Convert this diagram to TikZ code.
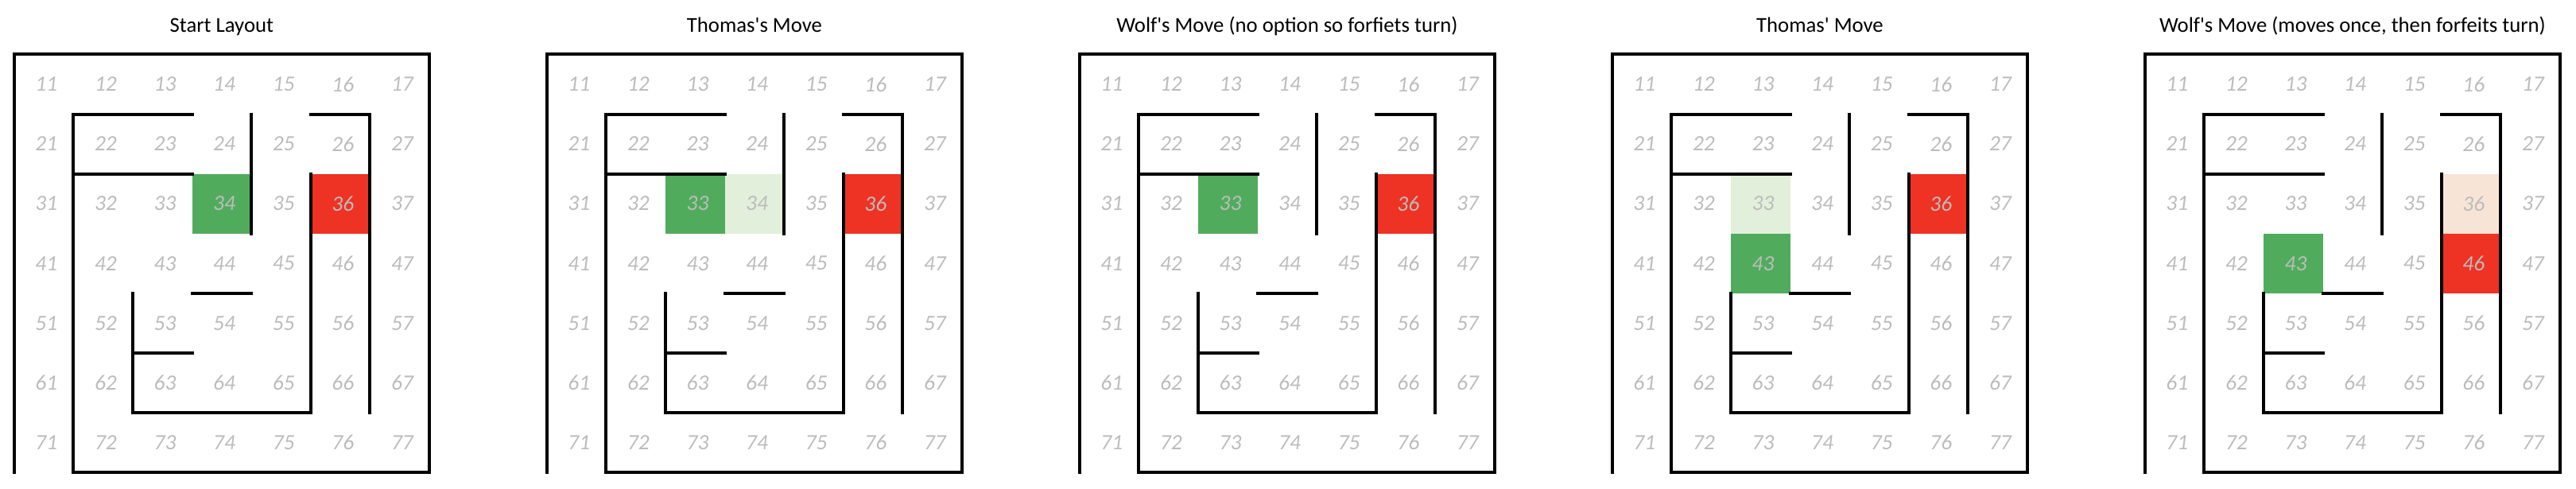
\documentclass[tikz,border=0pt]{standalone}
\usepackage{fontspec}
\usepackage{tikz}
\newfontfamily\calfont{Carlito}
\definecolor{mzgray}{HTML}{BCBCBC}
\definecolor{thgreen}{HTML}{50AC5C}
\definecolor{thpale}{HTML}{E2EFDA}
\definecolor{wfred}{HTML}{EE3224}
\definecolor{wfpale}{HTML}{F8E4D6}
\newcommand{\mazecell}[3]{\fill[#1] (#3-1,-#2+1) rectangle (#3,-#2);}
\newcommand{\mazeboard}[1]{%
  \foreach \r in {1,...,7}
    \foreach \c in {1,...,7}
      \node[num] (#1-\r\c) at (\c-0.5,-\r+0.5) {\r\c};
  \draw[wall] (0,-7) -- (0,0) -- (7,0) -- (7,-7) -- (1,-7) -- (1,-1) -- (3,-1);
  \draw[wall] (1,-2) -- (3,-2);
  \draw[wall] (4,-1) -- (4,-3);
  \draw[wall] (5,-1) -- (6,-1) -- (6,-6);
  \draw[wall] (3,-4) -- (4,-4);
  \draw[wall] (5,-2) -- (5,-6) -- (2,-6) -- (2,-4);
  \draw[wall] (2,-5) -- (3,-5);
}
\begin{document}
\begin{tikzpicture}[
    x=1.865cm, y=1.8775cm,
    num/.style={font=\calfont\itshape\fontsize{19.5}{19.5}\selectfont,
                text=mzgray, inner sep=0pt, xshift=0.08cm},
    ttl/.style={font=\calfont\fontsize{19}{19}\selectfont,
                anchor=base, inner sep=0pt},
    wall/.style={line width=0.1cm, line cap=rect, line join=miter},
  ]
  \useasboundingbox (-0.445cm,1.71cm) rectangle (80.555cm,-13.64cm);

  %% ---- start layout ----------------------------------------------------
  \begin{scope}
    \node[ttl] (ttl1) at (3.5,0.369) {Start Layout};
    \mazecell{thgreen}{3}{4}
    \mazecell{wfred}{3}{6}
    \mazeboard{a}
  \end{scope}

  %% ---- thomas moves left -------------------------------------------------
  \begin{scope}[xshift=16.75cm]
    \node[ttl] (ttl2) at (3.5,0.369) {Thomas\textquotesingle s Move};
    \mazecell{thpale}{3}{4}
    \mazecell{thgreen}{3}{3}
    \mazecell{wfred}{3}{6}
    \mazeboard{b}
  \end{scope}

  %% ---- wolf stuck --------------------------------------------------------
  \begin{scope}[xshift=33.5cm]
    \node[ttl] (ttl3) at (3.5,0.369)
      {Wolf\textquotesingle s Move (no option so forfiets turn)};
    \mazecell{thgreen}{3}{3}
    \mazecell{wfred}{3}{6}
    \mazeboard{c}
  \end{scope}

  %% ---- thomas moves down -------------------------------------------------
  \begin{scope}[xshift=50.25cm]
    \node[ttl] (ttl4) at (3.5,0.369) {Thomas\textquotesingle\ Move};
    \mazecell{thpale}{3}{3}
    \mazecell{thgreen}{4}{3}
    \mazecell{wfred}{3}{6}
    \mazeboard{d}
  \end{scope}

  %% ---- wolf moves once ---------------------------------------------------
  \begin{scope}[xshift=67cm]
    \node[ttl] (ttl5) at (3.5,0.369)
      {Wolf\textquotesingle s Move (moves once, then forfeits turn)};
    \mazecell{thgreen}{4}{3}
    \mazecell{wfpale}{3}{6}
    \mazecell{wfred}{4}{6}
    \mazeboard{e}
  \end{scope}

\end{tikzpicture}
\end{document}
